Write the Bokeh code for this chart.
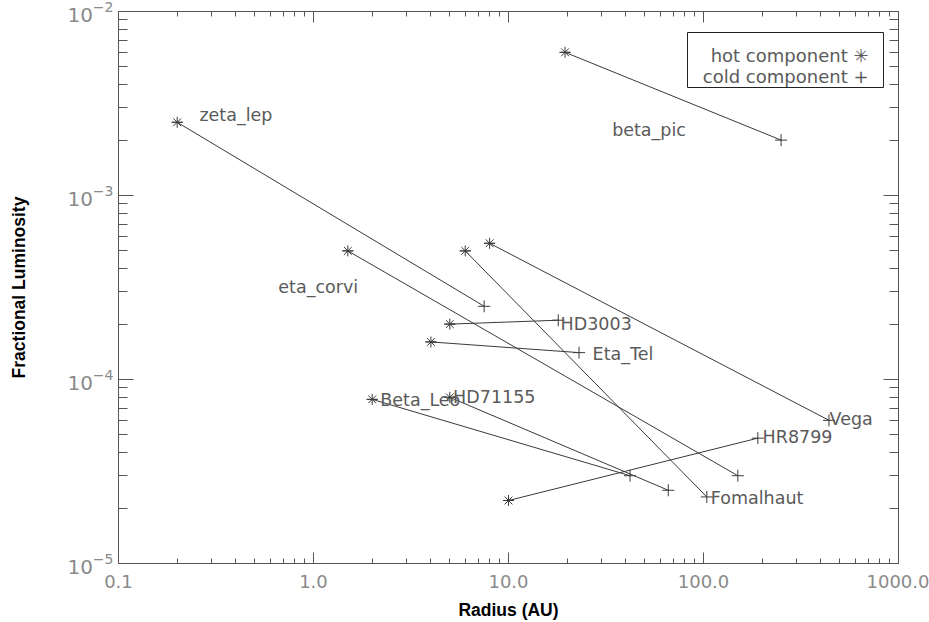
from bokeh.plotting import figure
from bokeh.models import LogAxis, FixedTicker, Label, Range1d, ColumnDataSource, BoxAnnotation
from bokeh.core.properties import value
from bokeh.embed import file_html
from bokeh.resources import INLINE

# ---- data ----
names = ["zeta_lep", "beta_pic", "eta_corvi", "HD3003", "Eta_Tel",
         "Beta_Leo", "HD71155", "Vega", "HR8799", "Fomalhaut"]
hot_r = [0.2, 19.5, 1.5, 5.0, 4.0, 2.0, 5.0, 8.0, 10.0, 6.0]
hot_f = [2.5e-3, 6.0e-3, 5.0e-4, 2.0e-4, 1.6e-4, 7.8e-5, 8.0e-5, 5.5e-4, 2.2e-5, 5.0e-4]
cold_r = [7.5, 250.0, 150.0, 18.0, 23.0, 42.0, 66.0, 440.0, 190.0, 104.0]
cold_f = [2.5e-4, 2.0e-3, 3.0e-5, 2.1e-4, 1.4e-4, 3.0e-5, 2.5e-5, 6.0e-5, 4.8e-5, 2.3e-5]
label_r = [0.26, 34.0, 0.66, 18.5, 27.0, 2.2, 5.2, 443.0, 201.0, 109.0]
label_f = [2.75e-3, 2.28e-3, 3.2e-4, 2.0e-4, 1.38e-4, 7.7e-5, 8.0e-5, 6.07e-5, 4.84e-5, 2.28e-5]

x_major = [0.1, 1.0, 10.0, 100.0, 1000.0]
x_labels = ["0.1", "1.0", "10.0", "100.0", "1000.0"]
y_major = [1e-5, 1e-4, 1e-3, 1e-2]
x_minor = [m * 10.0 ** e for e in range(-1, 3) for m in range(2, 10)]
y_minor = [m * 10.0 ** e for e in range(-5, -2) for m in range(2, 10)]

legend_lines = ["hot component \u2733", "cold component +"]

AX = "#555555"
LINE = "#3a3a3a"
TXT = "#5a5a5a"
TICKTXT = "#8a8a8a"
FONT = "DejaVu Sans"

src = ColumnDataSource(dict(name=names, hr=hot_r, hf=hot_f, cr=cold_r, cf=cold_f,
                            lr=label_r, lf=label_f))

p = figure(width=929, height=622, x_axis_type="log", y_axis_type="log",
           x_range=Range1d(0.1, 1000.0), y_range=Range1d(1e-5, 1e-2),
           output_backend="svg", toolbar_location=None,
           min_border_left=118, min_border_right=31, min_border_top=11, min_border_bottom=59)
p.background_fill_color = "white"
p.border_fill_color = "white"
p.outline_line_color = None
p.xgrid.visible = False
p.ygrid.visible = False


def style(ax, major_len, minor_len, fs):
    ax.major_tick_in = major_len
    ax.major_tick_out = 0
    ax.minor_tick_in = minor_len
    ax.minor_tick_out = 0
    ax.axis_line_color = AX
    ax.major_tick_line_color = AX
    ax.minor_tick_line_color = AX
    ax.major_label_text_color = TICKTXT
    ax.major_label_text_font = FONT
    ax.major_label_text_font_size = fs


xb = p.below[0]
xb.ticker = FixedTicker(ticks=x_major, minor_ticks=x_minor)
style(xb, 11, 5, "18px")
xb.major_label_overrides = {v: s for v, s in zip(x_major, x_labels)}
xb.major_label_standoff = 11
xb.axis_label = "Radius (AU)"
xb.axis_label_text_font = "Liberation Sans"
xb.axis_label_text_font_style = "bold"
xb.axis_label_text_font_size = "17.5px"
xb.axis_label_text_color = "black"
xb.axis_label_standoff = 9

yl = p.left[0]
yl.ticker = FixedTicker(ticks=y_major, minor_ticks=y_minor)
style(yl, 15, 9, "20px")
yl.major_label_standoff = 5
yl.axis_label = "Fractional Luminosity"
yl.axis_label_text_font = "Liberation Sans"
yl.axis_label_text_font_style = "bold"
yl.axis_label_text_font_size = "17.5px"
yl.axis_label_text_color = "black"
yl.axis_label_standoff = 35

xa = LogAxis(ticker=FixedTicker(ticks=x_major, minor_ticks=x_minor))
style(xa, 11, 5, "1px")
xa.major_label_text_alpha = 0
xa.major_label_standoff = 0
p.add_layout(xa, "above")

yr = LogAxis(ticker=FixedTicker(ticks=y_major, minor_ticks=y_minor))
style(yr, 15, 9, "1px")
yr.major_label_text_alpha = 0
yr.major_label_standoff = 0
p.add_layout(yr, "right")

# connecting lines, hot -> cold
p.segment(x0="hr", y0="hf", x1="cr", y1="cf", source=src, line_color=LINE, line_width=1)
# markers
p.scatter(x="hr", y="hf", source=src, marker="asterisk", size=11, line_color=LINE, line_width=1)
p.scatter(x="hr", y="hf", source=src, marker="dash", size=11, line_color=LINE, line_width=1)
p.scatter(x="cr", y="cf", source=src, marker="cross", size=12, line_color=LINE, line_width=1)
# star names
p.text(x="lr", y="lf", text="name", source=src, text_font=value(FONT),
       text_font_size="17.5px", text_color=TXT, text_baseline="alphabetic", text_align="left")

# legend box (screen units, relative to the plot frame)
box = BoxAnnotation(left=569, right=765, bottom=476, top=531,
                    left_units="screen", right_units="screen",
                    bottom_units="screen", top_units="screen",
                    fill_color="white", fill_alpha=1.0,
                    line_color="#222222", line_alpha=1.0, line_width=1)
p.add_layout(box)
for txt, yy in zip(legend_lines, [508, 487]):
    p.add_layout(Label(x=750, y=yy, x_units="screen", y_units="screen", text=txt,
                       text_font=FONT, text_font_size="18px", text_color=TXT,
                       text_align="right", text_baseline="alphabetic"))

open("out.html", "w").write(file_html(p, INLINE))
